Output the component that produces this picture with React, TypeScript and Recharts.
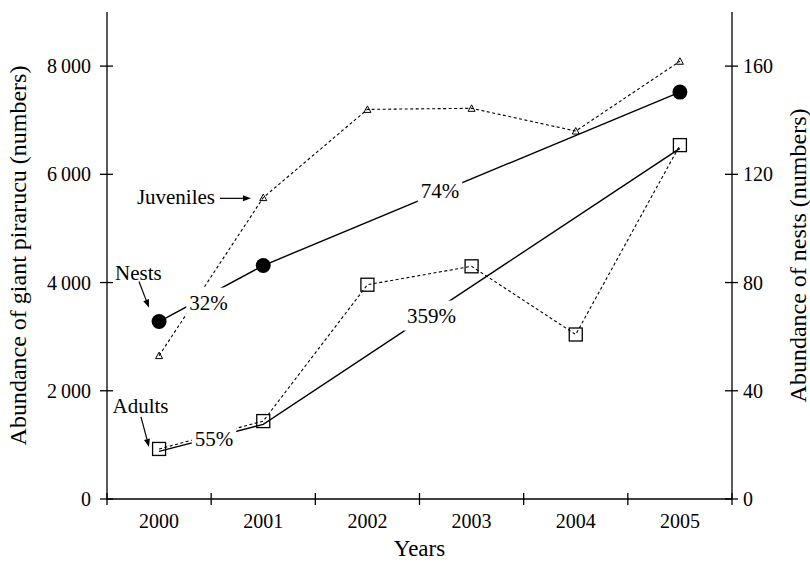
import React from "react";
import {
  LineChart,
  Line,
  XAxis,
  YAxis,
  ReferenceDot,
  ReferenceLine,
} from "recharts";

// ---- data ----
const years = ["2000", "2001", "2002", "2003", "2004", "2005"];
const juveniles = [2650, 5570, 7200, 7220, 6800, 8090];
const adults = [925, 1440, 3960, 4300, 3040, 6540];
const adultsTrend = [880, 1380, null, null, null, 6480];
const nests = [65.6, 86.3, null, null, null, 150.4];

const leftTicks = [0, 2000, 4000, 6000, 8000];
const rightTicks = [0, 40, 80, 120, 160];

// annotations (x in year index, y in left-axis units, text baseline centre)
const notes = [
  { text: "Juveniles", x: 0.162, y: 5444, boxed: false },
  { text: "Nests", x: -0.198, y: 4056, boxed: false },
  { text: "Adults", x: -0.178, y: 1593, boxed: false },
  { text: "32%", x: 0.474, y: 3500, boxed: true },
  { text: "74%", x: 2.697, y: 5556, boxed: true },
  { text: "359%", x: 2.615, y: 3259, boxed: true },
  { text: "55%", x: 0.527, y: 981, boxed: true },
];

const arrows = [
  { from: { x: 0.585, y: 5556 }, to: { x: 0.882, y: 5556 } },
  { from: { x: -0.193, y: 4019 }, to: { x: -0.097, y: 3537 } },
  { from: { x: -0.174, y: 1519 }, to: { x: -0.097, y: 963 } },
];

const W = 810;
const H = 562;
const LEFT_W = 107;
const RIGHT_W = 78;
const TOP = 12;
const X_H = 63;
const FONT = '"Liberation Serif", "Times New Roman", "DejaVu Serif", serif';
const txt = { fontFamily: FONT };

const rows = years.map((yr, i) => ({
  x: i,
  juveniles: juveniles[i],
  adults: adults[i],
  adultsTrend: adultsTrend[i],
  nests: nests[i],
}));

const xTicks = [...years.map((_, i) => i - 0.5), years.length - 0.5];

const fmtThousands = (v: number) =>
  v >= 1000 ? `${Math.floor(v / 1000)}\u2009${String(v % 1000).padStart(3, "0")}` : String(v);

const XTick = (props: any) => {
  const { x, y, payload } = props;
  const band = (W - LEFT_W - RIGHT_W) / years.length;
  const idx = Math.round(payload.value + 0.5);
  return (
    <g>
      <line x1={x} x2={x} y1={y - 6} y2={y + 6} stroke="#000" strokeWidth={1.3} />
      {idx < years.length && (
        <text x={x + band / 2} y={y + 29} textAnchor="middle" fontSize={20} style={txt} fill="#000">
          {years[idx]}
        </text>
      )}
    </g>
  );
};

const LeftTick = (props: any) => {
  const { x, y, payload } = props;
  return (
    <g>
      <line x1={x - 7} x2={x + 6} y1={y} y2={y} stroke="#000" strokeWidth={1.3} />
      <text x={x - 16} y={y + 7} textAnchor="end" fontSize={20} style={txt} fill="#000">
        {fmtThousands(payload.value)}
      </text>
    </g>
  );
};

const RightTick = (props: any) => {
  const { x, y, payload } = props;
  return (
    <g>
      <line x1={x - 7} x2={x + 6} y1={y} y2={y} stroke="#000" strokeWidth={1.3} />
      <text x={x + 11} y={y + 7} textAnchor="start" fontSize={20} style={txt} fill="#000">
        {payload.value}
      </text>
    </g>
  );
};

const emptyDot = (key: any) => <g key={key} />;

const triangleDot = (p: any) => {
  const { cx, cy, index } = p;
  if (cx == null || cy == null || p.value == null) return emptyDot(`t${index}`);
  return (
    <polygon
      key={`t${index}`}
      points={`${cx - 3.5},${cy + 3} ${cx + 3.5},${cy + 3} ${cx},${cy - 3.5}`}
      fill="none"
      stroke="#000"
      strokeWidth={1}
    />
  );
};

const squareDot = (p: any) => {
  const { cx, cy, index } = p;
  if (cx == null || cy == null || p.value == null) return emptyDot(`s${index}`);
  return (
    <rect key={`s${index}`} x={cx - 6.5} y={cy - 6.5} width={13} height={13} fill="none" stroke="#000" strokeWidth={1.3} />
  );
};

const circleDot = (p: any) => {
  const { cx, cy, index } = p;
  if (cx == null || cy == null || p.value == null) return emptyDot(`c${index}`);
  return <circle key={`c${index}`} cx={cx} cy={cy} r={7.5} fill="#000" />;
};

const noteShape = (text: string, boxed: boolean) => (p: any) => {
  const { cx, cy } = p;
  const fs = 21;
  let w = 0;
  for (const ch of text) w += ch === "%" ? 0.833 : 0.5;
  w *= fs;
  return (
    <g>
      {boxed && <rect x={cx - w / 2 - 3} y={cy - 22} width={w + 6} height={30} fill="#fff" />}
      <text x={cx} y={cy} textAnchor="middle" fontSize={fs} style={txt} fill="#000">
        {text}
      </text>
    </g>
  );
};

const arrowShape = (p: any) => {
  const { x1, y1, x2, y2 } = p;
  const dx = x2 - x1;
  const dy = y2 - y1;
  const len = Math.sqrt(dx * dx + dy * dy) || 1;
  const ux = dx / len;
  const uy = dy / len;
  const hl = 8;
  const hw = 3;
  const bx = x2 - ux * hl;
  const by = y2 - uy * hl;
  return (
    <g>
      <line x1={x1} y1={y1} x2={bx} y2={by} stroke="#000" strokeWidth={1.2} />
      <polygon
        points={`${x2},${y2} ${bx - uy * hw},${by + ux * hw} ${bx + uy * hw},${by - ux * hw}`}
        fill="#000"
      />
    </g>
  );
};

export default function App() {
  return (
    <div style={{ position: "absolute", left: 0, top: 0, width: W, height: H, background: "#fff", fontFamily: FONT }}>
      <LineChart width={W} height={H} data={rows} margin={{ top: TOP, right: 0, bottom: 0, left: 0 }}>
        <XAxis
          dataKey="x"
          type="number"
          domain={[-0.5, years.length - 0.5]}
          ticks={xTicks}
          interval={0}
          height={X_H}
          tickLine={false}
          tickSize={0}
          tickMargin={0}
          tick={<XTick />}
          axisLine={{ stroke: "#000", strokeWidth: 1.3 }}
        />
        <YAxis
          yAxisId="left"
          orientation="left"
          width={LEFT_W}
          domain={[0, 9000]}
          ticks={leftTicks}
          interval={0}
          tickLine={false}
          tickSize={0}
          tickMargin={0}
          tick={<LeftTick />}
          axisLine={{ stroke: "#000", strokeWidth: 1.3 }}
        />
        <YAxis
          yAxisId="right"
          orientation="right"
          width={RIGHT_W}
          domain={[0, 180]}
          ticks={rightTicks}
          interval={0}
          tickLine={false}
          tickSize={0}
          tickMargin={0}
          tick={<RightTick />}
          axisLine={{ stroke: "#000", strokeWidth: 1.3 }}
        />

        <Line
          yAxisId="left"
          dataKey="juveniles"
          type="linear"
          stroke="#000"
          strokeWidth={1.1}
          strokeDasharray="3 2.5"
          dot={triangleDot}
          activeDot={false}
          isAnimationActive={false}
        />
        <Line
          yAxisId="left"
          dataKey="adults"
          type="linear"
          stroke="#000"
          strokeWidth={1.1}
          strokeDasharray="3 2.5"
          dot={squareDot}
          activeDot={false}
          isAnimationActive={false}
        />
        <Line
          yAxisId="left"
          dataKey="adultsTrend"
          type="linear"
          stroke="#000"
          strokeWidth={1.4}
          connectNulls
          dot={false}
          activeDot={false}
          isAnimationActive={false}
        />
        <Line
          yAxisId="right"
          dataKey="nests"
          type="linear"
          stroke="#000"
          strokeWidth={1.4}
          connectNulls
          dot={circleDot}
          activeDot={false}
          isAnimationActive={false}
        />

        {arrows.map((a, i) => (
          <ReferenceLine key={`a${i}`} yAxisId="left" segment={[a.from, a.to]} shape={arrowShape} zIndex={2500} />
        ))}
        {notes.map((n) => (
          <ReferenceDot
            key={n.text}
            yAxisId="left"
            x={n.x}
            y={n.y}
            r={1}
            shape={noteShape(n.text, n.boxed)}
            zIndex={2500}
          />
        ))}

        <text
          transform={`translate(18, ${TOP + (H - X_H - TOP) / 2}) rotate(-90)`}
          textAnchor="middle"
          dominantBaseline="central"
          fontSize={24}
          style={txt}
          fill="#000"
        >
          Abundance of giant pirarucu (numbers)
        </text>
        <text
          transform={`translate(798, ${TOP + (H - X_H - TOP) / 2}) rotate(-90)`}
          textAnchor="middle"
          dominantBaseline="central"
          fontSize={24}
          style={txt}
          fill="#000"
        >
          Abundance of nests (numbers)
        </text>
        <text
          x={LEFT_W + (W - LEFT_W - RIGHT_W) / 2}
          y={H - 6}
          textAnchor="middle"
          fontSize={23}
          style={txt}
          fill="#000"
        >
          Years
        </text>
      </LineChart>
    </div>
  );
}
